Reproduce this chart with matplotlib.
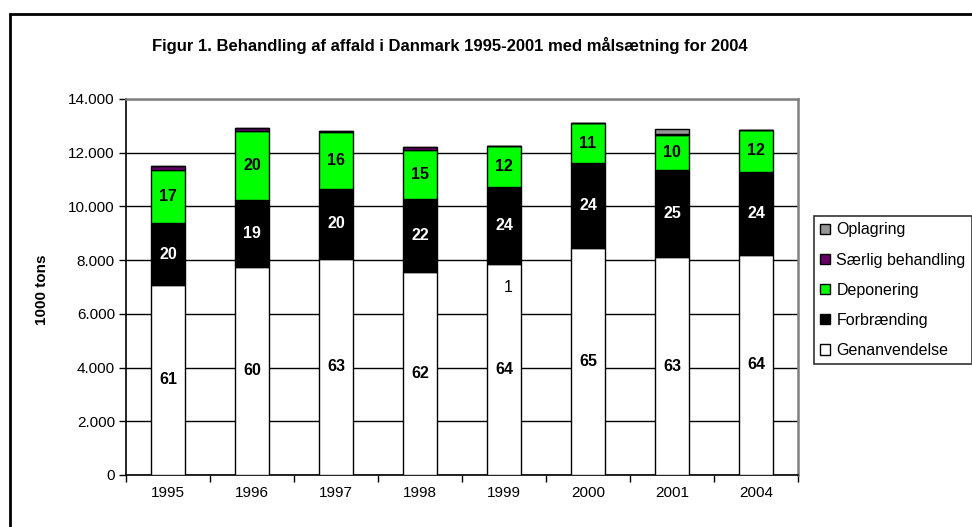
import matplotlib
matplotlib.use("Agg")
import matplotlib.pyplot as plt
import matplotlib.patches as patches
from matplotlib.ticker import FuncFormatter, MultipleLocator, FixedLocator
import numpy as np

plt.rcParams['font.family'] = ['Liberation Sans', 'DejaVu Sans']

# data (1000 tons)
years = ['1995', '1996', '1997', '1998', '1999', '2000', '2001', '2004']
genanvendelse = [7080, 7750, 8060, 7540, 7840, 8470, 8100, 8200]
forbraending = [2290, 2500, 2600, 2750, 2900, 3160, 3250, 3100]
deponering = [1970, 2570, 2100, 1800, 1500, 1460, 1320, 1550]
saerlig = [170, 110, 40, 110, 0, 0, 40, 0]
oplagring = [0, 0, 0, 0, 0, 0, 170, 0]

# percentage labels shown in the segments
pct_gen = [61, 60, 63, 62, 64, 65, 63, 64]
pct_forb = [20, 19, 20, 22, 24, 24, 25, 24]
pct_dep = [17, 20, 16, 15, 12, 11, 10, 12]

series = [
    ('Genanvendelse', genanvendelse, 'white'),
    ('Forbrænding', forbraending, 'black'),
    ('Deponering', deponering, '#00ff00'),
    ('Særlig behandling', saerlig, '#660066'),
    ('Oplagring', oplagring, '#969696'),
]

fig = plt.figure(figsize=(9.72, 5.27), dpi=100)
ax = fig.add_axes([126 / 972, 1 - 475 / 527, (798 - 126) / 972, (475 - 99) / 527])

x = np.arange(len(years))
bottom = np.zeros(len(years))
handles = []
for name, vals, col in series:
    b = ax.bar(x, vals, width=0.40, bottom=bottom, color=col, edgecolor='black',
               linewidth=1.0, label=name, zorder=3)
    handles.append(b)
    bottom = bottom + np.array(vals)

# segment labels
gen = np.array(genanvendelse)
forb = np.array(forbraending)
dep = np.array(deponering)
for i in range(len(years)):
    ax.text(x[i], gen[i] / 2, str(pct_gen[i]), ha='center', va='center',
            fontsize=11.5, fontweight='bold', color='black', zorder=4)
    ax.text(x[i], gen[i] + forb[i] / 2, str(pct_forb[i]), ha='center', va='center',
            fontsize=11.5, fontweight='bold', color='white', zorder=4)
    ax.text(x[i], gen[i] + forb[i] + dep[i] / 2, str(pct_dep[i]), ha='center', va='center',
            fontsize=11.5, fontweight='bold', color='black', zorder=4)
# stray label for særlig behandling in 1999
ax.text(x[4] + 0.05, 7000, '1', ha='center', va='center', fontsize=11.5, color='black', zorder=4)

ax.set_xlim(-0.5, len(years) - 0.5)
ax.set_ylim(0, 14000)
ax.yaxis.set_major_locator(MultipleLocator(2000))
ax.yaxis.set_major_formatter(FuncFormatter(lambda v, p: f"{int(v):,}".replace(',', '.')))
ax.set_xticks(x)
ax.set_xticklabels(years)
ax.xaxis.set_minor_locator(FixedLocator(np.arange(-0.5, len(years), 1.0)))
ax.tick_params(axis='x', which='major', length=0, pad=8, labelsize=11)
ax.tick_params(axis='x', which='minor', length=5, direction='out', width=1)
ax.tick_params(axis='y', length=5, direction='out', width=1, labelsize=11, pad=3)
ax.yaxis.grid(True, color='black', linewidth=1.0, zorder=0)
ax.set_axisbelow(True)

for s in ['left', 'bottom']:
    ax.spines[s].set_color('black')
    ax.spines[s].set_linewidth(1.2)
for s in ['top', 'right']:
    ax.spines[s].set_color('#808080')
    ax.spines[s].set_linewidth(1.8)

fig.text(42 / 972, 1 - 290 / 527, '1000 tons', rotation=90, ha='center', va='center',
         fontsize=11, fontweight='bold')
fig.text(450 / 972, 1 - 46 / 527,
         'Figur 1. Behandling af affald i Danmark 1995-2001 med målsætning for 2004',
         ha='center', va='center', fontsize=12, fontweight='bold')

leg = fig.legend(handles[::-1], [s[0] for s in series][::-1], loc='upper left',
                 bbox_to_anchor=(814 / 972, 1 - 216 / 527), fontsize=11.5,
                 frameon=True, fancybox=False, handlelength=0.6, handleheight=0.6,
                 handletextpad=0.4, labelspacing=0.95, borderpad=0.4, borderaxespad=0)
leg.get_frame().set_edgecolor('black')
leg.get_frame().set_linewidth(1.2)

# outer chart frame (cut off at right and bottom)
frame = patches.Rectangle((10 / 972, -0.05), 1.1, (1 - 14 / 527) + 0.05,
                          transform=fig.transFigure, fill=False, edgecolor='black',
                          linewidth=2, clip_on=False)
fig.patches.append(frame)

fig.savefig('out.png', dpi=100)
